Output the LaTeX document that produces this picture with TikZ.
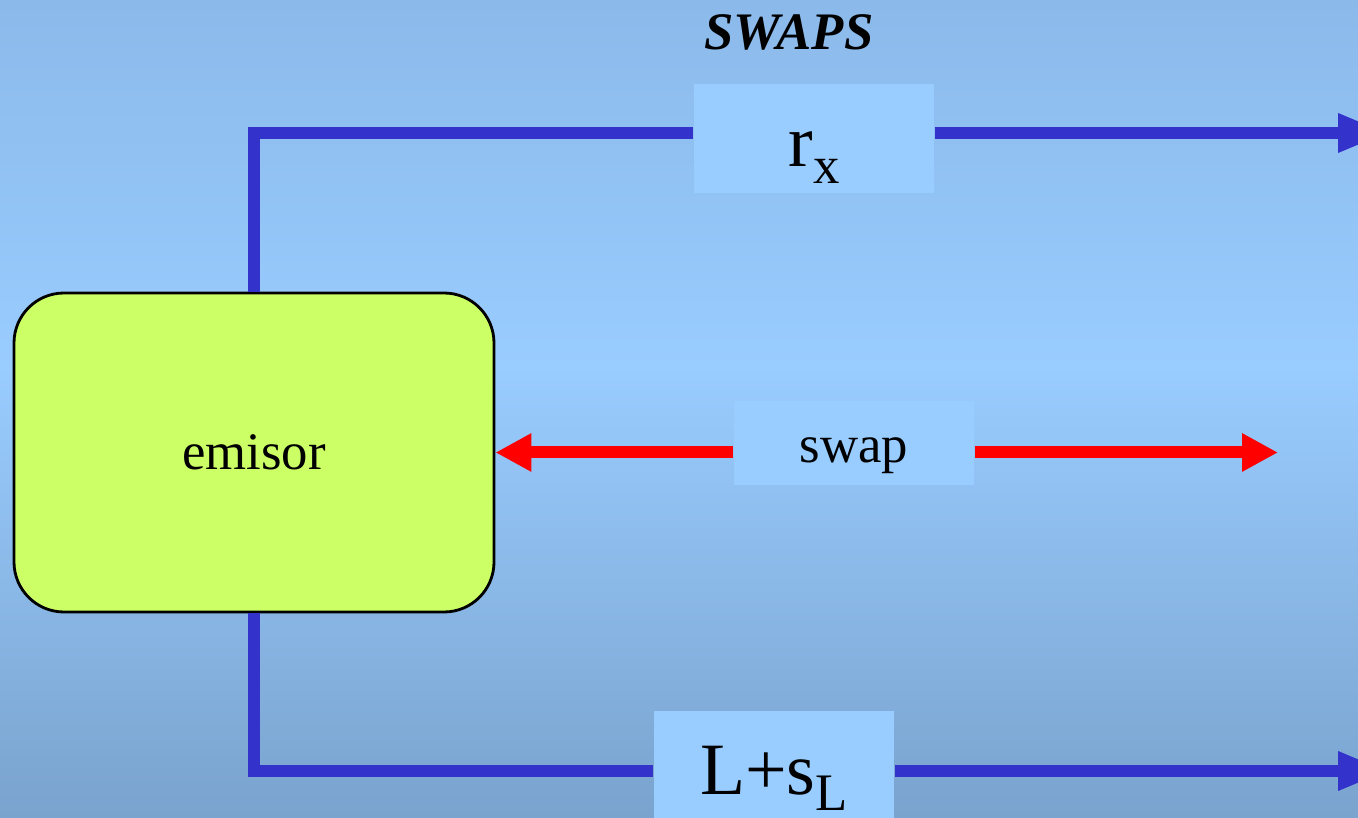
\documentclass[tikz,border=0pt]{standalone}
\usepackage{fontspec}
\setmainfont{Liberation Serif}
\usetikzlibrary{arrows.meta}

\definecolor{bgtop}{HTML}{8BB9EA}
\definecolor{bgmid}{HTML}{99CCFF}
\definecolor{bgbot}{HTML}{7AA3CE}
\definecolor{labelfill}{HTML}{99CCFF}
\definecolor{emisorfill}{HTML}{CCFF66}
\definecolor{legblue}{HTML}{3333CC}
\definecolor{swapred}{HTML}{FF0000}

% lowered index, as in r_x
\newcommand{\idx}[1]{\raisebox{-0.22em}{\fontsize{15}{15}\selectfont #1}}

\begin{document}
\begin{tikzpicture}[font=\fontsize{15}{18}\selectfont,
  legbox/.style={fill=labelfill,inner sep=0pt,minimum width=2.4cm,minimum height=1.09cm,
    font=\fontsize{21}{24}\selectfont,text height=0.57cm,text depth=0pt},
  leg/.style={draw=legblue,line width=0.12cm},
  swapline/.style={draw=swapred,line width=0.12cm,-{Triangle[length=0.36cm,width=0.36cm]}},
  legarrow/.style={leg,-{Triangle[length=0.5cm,width=0.36cm]}}]

% background, lightest a bit above the middle
\useasboundingbox (0,0) rectangle (13.58,8.17);
\shade[top color=bgtop,bottom color=bgmid] (0,4.5) rectangle (13.58,8.17);
\shade[top color=bgmid,bottom color=bgbot] (0,0) rectangle (13.58,4.5);

\node[font=\fontsize{15}{18}\selectfont\bfseries\itshape,anchor=base] (title) at (7.89,7.67) {SWAPS};

\node[draw=black,line width=0.8pt,fill=emisorfill,rounded corners=0.5cm,
  minimum width=4.8cm,minimum height=3.19cm,inner sep=0pt,
  text height=0.34cm,text depth=0pt] (emisor) at (2.54,3.645) {emisor};

\coordinate (topend) at (13.88,6.84);
\coordinate (botend) at (13.88,0.46);
\coordinate (swapend) at (12.78,3.645);

\node[legbox] (rx) at (8.14,6.785) {r\idx{x}};
\node[legbox] (lsl) at (7.74,0.515) {L+s\idx{L}};
\node[legbox,font=\fontsize{15}{18}\selectfont,minimum height=0.84cm,text height=0.4cm] (swap) at (8.54,3.74) {swap};

\draw[leg] (emisor.north) |- (rx.west |- topend);
\draw[legarrow] (rx.east |- topend) -- (topend);
\draw[leg] (emisor.south) |- (lsl.west |- botend);
\draw[legarrow] (lsl.east |- botend) -- (botend);

\draw[swapline] (swap.west |- swapend) -- (emisor.east);
\draw[swapline] (swap.east |- swapend) -- (swapend);

\end{tikzpicture}
\end{document}
